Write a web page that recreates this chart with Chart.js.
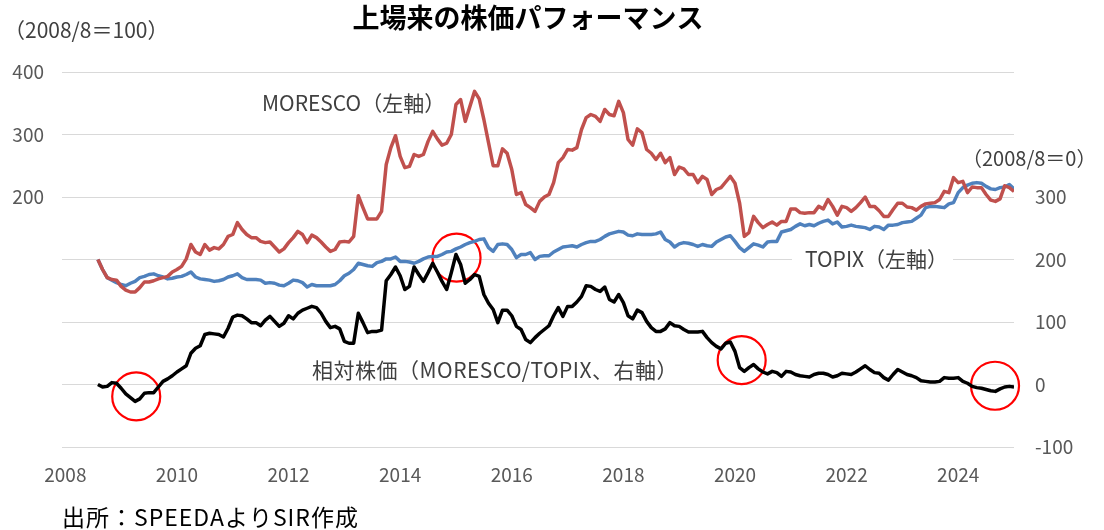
<!DOCTYPE html>
<html><head><meta charset="utf-8">
<script src="https://cdn.jsdelivr.net/npm/chart.js@4/dist/chart.umd.min.js"></script>
<style>html,body{margin:0;padding:0;background:#fff;}canvas{display:block;}</style>
</head><body>
<canvas id="c" width="1104" height="530"></canvas>
<script>
// Monthly series, first month 2008/8
const startYear = 2008, startMonth = 8;
const moresco = [100,84,71,68,67,57,51,48,48,55,64,64,66,69,71,73,80,84,89,101,
124,112,108,124,115,119,117,124,137,140,159,148,140,135,135,129,127,128,120,112,
117,127,135,145,140,127,139,135,128,120,113,116,128,129,128,137,202,183,165,165,
165,177,252,279,298,265,247,249,268,265,268,289,305,293,283,286,300,348,356,321,
345,369,357,324,287,250,250,277,270,244,204,207,188,183,177,193,200,204,223,255,
263,276,275,279,308,327,332,329,321,340,332,330,353,335,292,283,309,303,276,270,
260,270,255,263,236,248,245,236,236,223,233,228,204,212,215,224,233,222,190,137,
143,169,159,151,156,160,155,161,161,181,181,175,174,175,175,185,181,196,185,171,
185,183,177,183,191,200,185,185,178,169,169,180,190,190,184,183,179,185,189,190,
191,196,209,207,231,223,225,207,216,215,215,204,195,193,197,218,215,209];
const topix = [100,84,71,67,63,60,58,62,65,71,73,76,77,74,72,69,70,72,73,76,
80,72,69,68,67,65,66,68,72,74,77,71,68,68,68,67,62,63,62,59,
58,62,67,66,63,56,60,58,58,58,58,60,66,74,78,84,94,92,90,89,
95,97,101,101,104,97,97,96,94,97,101,104,105,105,108,112,113,117,120,124,
127,129,132,133,119,113,124,125,124,116,103,108,108,111,100,105,106,106,112,116,
120,121,122,120,124,127,129,129,132,137,141,143,145,144,139,138,141,140,140,140,
141,144,132,128,120,125,127,126,124,121,124,122,121,128,132,136,138,129,119,113,
119,125,123,120,128,129,129,144,146,148,153,157,154,156,154,158,161,163,157,160,
152,153,155,153,152,151,148,153,152,148,155,155,156,159,160,161,166,171,183,185,
185,184,183,189,191,207,215,219,222,223,222,217,213,212,215,216,220,213];
const relative = [0,-4,-3,3,2,-6,-15,-21,-27,-23,-14,-13,-13,-4,5,9,14,20,25,30,
50,58,62,80,82,81,80,76,90,108,111,110,105,99,99,94,103,109,101,93,
98,110,105,114,119,122,125,123,114,101,91,93,89,69,66,66,114,99,83,85,
85,87,166,176,188,174,152,157,188,176,165,179,194,180,165,152,179,208,192,162,
168,176,173,144,130,120,99,119,119,110,93,88,72,67,75,82,88,94,110,123,
109,125,125,132,141,158,157,152,149,156,136,132,144,131,110,105,119,115,101,91,
85,85,89,99,94,93,88,84,84,84,85,75,67,61,57,66,68,53,27,21,
27,32,25,20,17,21,19,13,21,20,16,14,13,12,16,18,18,16,12,14,
18,17,16,20,25,30,24,19,18,11,7,16,24,20,16,14,11,6,5,4,
4,5,11,10,10,11,5,2,-3,-5,-6,-8,-10,-11,-7,-4,-3,-4];
const xTickYears = [2008,2010,2012,2014,2016,2018,2020,2022,2024];
const leftTickLabels = [200,300,400];
const rightTickLabels = [-100,0,100,200,300];
const highlightX = [2009.27,2015.01,2020.12,2024.66];
const highlightY = [-19,203,39,-2];

const FONT = '"Noto Sans CJK JP","Noto Sans",sans-serif';
const toPts = arr => arr.map((v,i)=>({x: startYear + (startMonth-1+i)/12, y: v}));

const textPlugin = {
  id:'texts',
  beforeDatasetsDraw(chart){
    const ctx = chart.ctx;
    ctx.save();
    ctx.fillStyle = '#fff';
    ctx.fillRect(792, 247, 161, 24);
    ctx.restore();
  },
  afterDraw(chart){
    const ctx = chart.ctx;
    ctx.save();
    ctx.textBaseline = 'middle';
    ctx.fillStyle = '#000';
    ctx.font = 'bold 27px ' + FONT;
    ctx.textAlign = 'center';
    ctx.fillText('上場来の株価パフォーマンス', 528, 18);
    ctx.textAlign = 'left';
    ctx.fillStyle = '#404040';
    ctx.font = '21px ' + FONT;
    ctx.fillText('（2008/8＝100）', 4, 30);
    ctx.font = '20px ' + FONT;
    ctx.fillText('（2008/8＝0）', 962, 158);
    ctx.font = '21px ' + FONT;
    ctx.fillText('MORESCO（左軸）', 262, 103);
    ctx.fillText('TOPIX（左軸）', 805, 259);
    ctx.letterSpacing = '0.5px';
    ctx.fillText('相対株価（MORESCO/TOPIX、右軸）', 312, 370);
    ctx.fillStyle = '#000';
    ctx.font = '23px ' + FONT;
    ctx.letterSpacing = '1px';
    ctx.fillText('出所：SPEEDAよりSIR作成', 62, 517);
    ctx.restore();
  }
};

new Chart(document.getElementById('c'), {
  type:'line',
  data:{datasets:[
    {label:'MORESCO', data:toPts(moresco), yAxisID:'y', borderColor:'#C0504D', borderWidth:3.5, pointRadius:0, tension:0, borderJoinStyle:'round'},
    {label:'TOPIX', data:toPts(topix), yAxisID:'y', borderColor:'#4F81BD', borderWidth:3.5, pointRadius:0, tension:0, borderJoinStyle:'round'},
    {label:'相対株価', data:toPts(relative), yAxisID:'y2', borderColor:'#000000', borderWidth:3.5, pointRadius:0, tension:0, borderJoinStyle:'round'},
    {type:'scatter', label:'highlight', data:highlightX.map((x,i)=>({x, y:highlightY[i]})), yAxisID:'y2', clip:false,
     pointRadius:24, pointHoverRadius:24, pointBorderColor:'#FF0000', pointBackgroundColor:'rgba(0,0,0,0)', pointBorderWidth:2.2, showLine:false}
  ]},
  options:{
    responsive:false, animation:false, devicePixelRatio:1,
    layout:{padding:{top:72,left:0,right:0,bottom:0}},
    plugins:{legend:{display:false}, tooltip:{enabled:false}},
    scales:{
      x:{type:'linear', min:2007.94, max:2025.0,
         afterBuildTicks:s=>{s.ticks = xTickYears.map(v=>({value:v}));},
         afterFit:s=>{s.height = 83;},
         grid:{display:false, drawTicks:false}, border:{display:false},
         ticks:{padding:16, color:'#595959', font:{family:FONT, size:19}, maxRotation:0, autoSkip:false, callback:v=>String(v)}},
      y:{position:'left', min:-200, max:400,
         afterBuildTicks:s=>{s.ticks = [-200,-100,0,100,200,300,400].map(v=>({value:v}));},
         afterFit:s=>{s.width = 62;},
         grid:{color:'#D9D9D9', lineWidth:1, drawTicks:false}, border:{display:false},
         ticks:{padding:18, color:'#595959', font:{family:FONT, size:19},
                callback:v=>leftTickLabels.includes(v) ? String(v) : ''}},
      y2:{position:'right', min:-100, max:500,
         afterBuildTicks:s=>{s.ticks = [-100,0,100,200,300,400,500].map(v=>({value:v}));},
         afterFit:s=>{s.width = 90;},
         grid:{display:false, drawTicks:false}, border:{display:false},
         ticks:{padding:21, color:'#595959', font:{family:FONT, size:19},
                callback:v=>rightTickLabels.includes(v) ? String(v) : ''}}
    }
  },
  plugins:[textPlugin]
});
</script>
</body></html>
